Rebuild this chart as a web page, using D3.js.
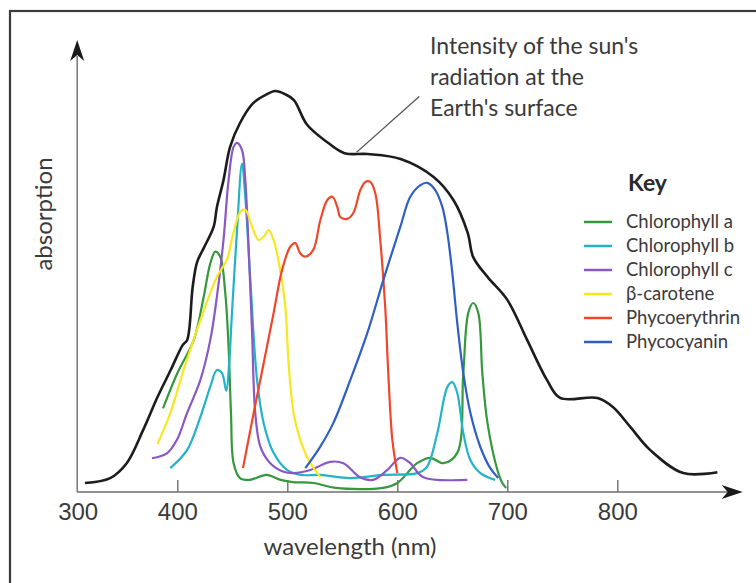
<!DOCTYPE html>
<html>
<head>
<meta charset="utf-8">
<script src="https://cdn.jsdelivr.net/npm/d3@7"></script>
<style>
  body { margin: 0; background: #fff; }
  svg { display: block; }
</style>
</head>
<body>
<script>
// wavelength (nm), relative absorption / intensity (0-100)
const sunCurve = [[316,2.0],[339,3.1],[354,6.4],[369,13.8],[382,21.1],[394,27.1],[405,32.7],[409,33.8],[414,45.6],[418,51.1],[424,54.2],[433,58.9],[436,63.3],[442,69.3],[448,76.7],[457,82.0],[469,86.4],[480,88.2],[489,89.1],[498,88.4],[506,87.1],[518,81.6],[537,77.6],[552,75.3],[573,75.1],[603,74.0],[633,70.0],[651,64.9],[664,57.6],[669,52.2],[682,47.8],[700,42.7],[718,33.8],[736,24.9],[748,20.9],[782,20.9],[796,18.9],[812,14.4],[830,9.3],[860,4.2],[891,4.4]];

const chlA = [[387,18.6],[400,26.4],[415,33.8],[424,43.4],[430,50.8],[434.5,53.4],[439,52.3],[443.6,44.2],[446.6,32.3],[448.8,17.6],[451.2,6.4],[457,3.1],[466,2.7],[481,3.8],[494,2.7],[505,2.2],[524,2.0],[544,0.9],[587,0.9],[600,2.0],[618,6.4],[630,7.6],[642,6.4],[654.5,8.7],[660,26.4],[664.5,39.8],[669,42.0],[673.6,39.8],[677.3,26.4],[682,15.3],[691,4.9],[695.5,2.0],[699,0.9]];

const chlB = [[393.6,5.3],[408.8,9.3],[421,16.7],[430,23.4],[436,27.1],[440.6,26.4],[444.5,22.5],[447,28.0],[449.7,39.8],[454.3,58.2],[458.8,73.0],[461.8,65.6],[466.4,47.1],[472.5,24.9],[478.5,15.3],[487.5,8.7],[499.7,4.9],[512,3.8],[530,3.8],[557,3.1],[587,3.8],[618,4.2],[627,5.6],[636.4,13.1],[645.5,23.3],[650,24.4],[654.5,22.0],[660,13.1],[666.4,7.1],[675.5,4.2],[689,2.7]];

const chlC = [[377,7.5],[390.6,8.6],[399.7,11.6],[408.8,17.5],[421,24.9],[430,33.8],[436,43.4],[442,56.0],[446.6,69.3],[451.2,76.7],[454.3,77.6],[458.8,76.0],[461.8,69.3],[464.8,54.5],[467.9,36.0],[470.9,17.5],[475.5,10.1],[484.5,6.4],[496.6,4.5],[505.7,4.2],[521,4.9],[539,6.7],[551,6.4],[566,3.3],[578,2.7],[591,4.9],[602.7,7.6],[611.8,6.4],[623.6,3.3],[663.6,2.7]];

const betaCarotene = [[382,10.7],[393.6,17.5],[405.7,27.1],[421,38.2],[436,47.8],[445,51.6],[451,57.5],[457.3,62.3],[461.8,62.7],[467.9,59.0],[473.9,56.0],[478.5,56.7],[483,58.2],[487.5,56.0],[493.6,49.3],[498.2,41.2],[501.2,28.6],[505.7,17.5],[511.8,11.6],[519.4,7.1],[530,3.3]];

const phycoerythrin = [[459.7,5.3],[469.4,17.5],[478.5,28.6],[487.5,39.7],[495.2,49.3],[502.7,54.5],[507.3,55.3],[511.8,53.0],[516.4,52.3],[523.6,53.8],[530,60.4],[536.4,64.9],[541,65.6],[545.5,63.3],[548.2,61.1],[554.5,60.7],[560,62.0],[566.4,67.1],[571,68.9],[575.5,68.9],[580,66.4],[584.5,56.0],[589,41.1],[591.8,26.4],[595.5,11.6],[600,4.2]];

const phycocyanin = [[516.4,5.3],[530,10.1],[541.8,15.3],[557.3,24.9],[572.7,35.3],[587.3,47.1],[602.7,58.9],[611.8,65.6],[621,68.2],[627.3,68.7],[634.5,67.1],[641,63.3],[645.5,57.6],[650,48.7],[654.5,37.6],[660,26.4],[666.4,17.6],[675.5,10.0],[684.5,5.3],[691.8,3.1]];

const seriesNames = ["Chlorophyll a", "Chlorophyll b", "Chlorophyll c", "β-carotene", "Phycoerythrin", "Phycocyanin"];
const seriesData = [chlA, chlB, chlC, betaCarotene, phycoerythrin, phycocyanin];
const seriesColors = ["#34993c", "#22b4c6", "#8a58c2", "#f6e71e", "#f0462a", "#2f5fc6"];

const xTicks = [400, 500, 600, 700, 800];
const axisStart = 309;   // wavelength where the drawn axis begins
const axisEnd = 914;
const annotationLines = ["Intensity of the sun's", "radiation at the", "Earth's surface"];

const W = 756, H = 583;
const svg = d3.select("body").append("svg")
    .attr("width", W)
    .attr("height", H);

// outer frame
svg.append("rect")
    .attr("x", 10).attr("y", 11)
    .attr("width", 800).attr("height", 640)
    .attr("fill", "none")
    .attr("stroke", "#3a3a3a")
    .attr("stroke-width", 2.2);

const x = d3.scaleLinear().domain([400, 800]).range([177.3, 617.3]);
const y = d3.scaleLinear().domain([0, 100]).range([492, 42]);

const x0 = x(axisStart), y0 = y(0);

// axes lines
svg.append("line")
    .attr("x1", x0).attr("y1", y0).attr("x2", x(axisEnd) - 14).attr("y2", y0)
    .attr("stroke", "#6e6e6e").attr("stroke-width", 1.4);
svg.append("line")
    .attr("x1", x0).attr("y1", y0).attr("x2", x0).attr("y2", y(100) + 14)
    .attr("stroke", "#6e6e6e").attr("stroke-width", 1.4);

// arrow heads
const xe = x(axisEnd);
svg.append("path")
    .attr("d", `M${xe},${y0} L${xe - 21},${y0 - 7} L${xe - 15},${y0} L${xe - 21},${y0 + 7} Z`)
    .attr("fill", "#1a1a1a");
const ye = y(100) - 2;
svg.append("path")
    .attr("d", `M${x0},${ye} L${x0 - 7},${ye + 21} L${x0},${ye + 15} L${x0 + 7},${ye + 21} Z`)
    .attr("fill", "#1a1a1a");

// x axis ticks and labels
const xAxis = d3.axisBottom(x)
    .tickValues(xTicks)
    .tickSizeInner(-12)
    .tickSizeOuter(0)
    .tickPadding(11)
    .tickFormat(d3.format("d"));
const gx = svg.append("g")
    .attr("transform", `translate(0,${y0})`)
    .call(xAxis);
gx.select(".domain").remove();
gx.selectAll(".tick line").attr("stroke", "#6e6e6e").attr("stroke-width", 1.4);
gx.selectAll(".tick text")
    .attr("fill", "#3a3a3a")
    .style("font-family", "'Liberation Sans', Arial, sans-serif")
    .style("font-size", "24px");

// origin label "300"
svg.append("text")
    .attr("x", x0 + 1).attr("y", y0 + 11).attr("dy", "0.71em")
    .attr("text-anchor", "middle")
    .attr("fill", "#3a3a3a")
    .style("font-family", "'Liberation Sans', Arial, sans-serif")
    .style("font-size", "24px")
    .text("300");

const labelFont = "Lato, 'Open Sans', sans-serif";

// axis titles
svg.append("text")
    .attr("x", 350).attr("y", 555)
    .attr("text-anchor", "middle")
    .attr("fill", "#3a3a3a")
    .style("font-family", labelFont)
    .style("font-size", "24px")
    .text("wavelength (nm)");

svg.append("text")
    .attr("transform", "translate(52,214) rotate(-90)")
    .attr("text-anchor", "middle")
    .attr("fill", "#3a3a3a")
    .style("font-family", labelFont)
    .style("font-size", "24px")
    .text("absorption");

const line = d3.line()
    .x(d => x(d[0]))
    .y(d => y(d[1]))
    .curve(d3.curveCatmullRom.alpha(0.5));

// coloured pigment curves
svg.selectAll(".pigment")
    .data(seriesData)
    .enter()
    .append("path")
    .attr("class", "pigment")
    .attr("d", line)
    .attr("fill", "none")
    .attr("stroke", (d, i) => seriesColors[i])
    .attr("stroke-width", 2.2)
    .attr("stroke-linejoin", "round");

// sun intensity curve
svg.append("path")
    .datum(sunCurve)
    .attr("d", line)
    .attr("fill", "none")
    .attr("stroke", "#1c1c1c")
    .attr("stroke-width", 2.6);

// annotation pointer and text
svg.append("line")
    .attr("x1", x(563)).attr("y1", y(75.5))
    .attr("x2", x(620)).attr("y2", y(87.9))
    .attr("stroke", "#555").attr("stroke-width", 1.2);

svg.append("g").selectAll("text")
    .data(annotationLines)
    .enter()
    .append("text")
    .attr("x", 430)
    .attr("y", (d, i) => 54 + i * 31)
    .attr("fill", "#3a3a3a")
    .style("font-family", labelFont)
    .style("font-size", "23px")
    .text(d => d);

// key
const key = svg.append("g").attr("transform", "translate(584,0)");
key.append("text")
    .attr("x", 44).attr("y", 191)
    .attr("fill", "#2a2a2a")
    .style("font-family", labelFont)
    .style("font-weight", "bold")
    .style("font-size", "23px")
    .text("Key");

const rows = key.selectAll(".row")
    .data(seriesNames)
    .enter()
    .append("g")
    .attr("class", "row")
    .attr("transform", (d, i) => `translate(0,${222 + i * 24})`);
rows.append("line")
    .attr("x1", 0).attr("x2", 28)
    .attr("stroke", (d, i) => seriesColors[i])
    .attr("stroke-width", 2.5);
rows.append("text")
    .attr("x", 42).attr("dy", "0.35em")
    .attr("fill", "#3a3a3a")
    .style("font-family", labelFont)
    .style("font-size", "18.5px")
    .text(d => d);
</script>
</body>
</html>
